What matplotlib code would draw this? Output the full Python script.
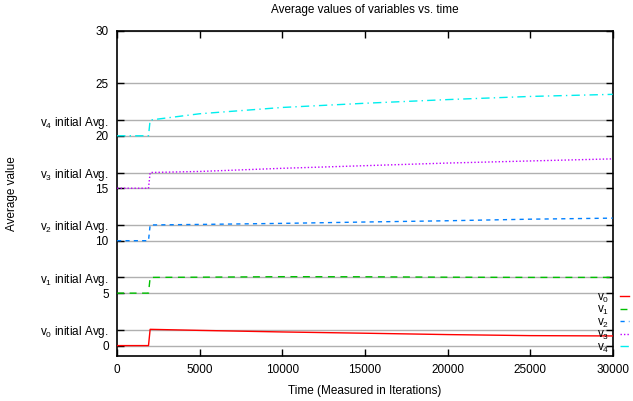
import matplotlib
matplotlib.use("Agg")
import matplotlib.pyplot as plt

plt.rcParams['font.family'] = ['Liberation Sans', 'DejaVu Sans']
plt.rcParams['mathtext.fontset'] = 'custom'
plt.rcParams['mathtext.rm'] = 'Liberation Sans'
plt.rcParams['mathtext.it'] = 'Liberation Sans'

time = [0, 1900, 2000, 5000, 10000, 15000, 20000, 25000, 30000]
v0 = [0, 0, 1.55, 1.45, 1.30, 1.18, 1.05, 0.95, 0.92]
v1 = [5, 5, 6.50, 6.52, 6.57, 6.56, 6.52, 6.50, 6.50]
v2 = [10, 10, 11.50, 11.55, 11.65, 11.78, 11.90, 12.05, 12.15]
v3 = [15, 15, 16.50, 16.60, 16.90, 17.15, 17.40, 17.60, 17.80]
v4 = [20, 20, 21.50, 22.10, 22.70, 23.10, 23.45, 23.75, 23.95]

series_labels = ['v$_0$', 'v$_1$', 'v$_2$', 'v$_3$', 'v$_4$']
colors = ['#ff0000', '#00c000', '#0080ff', '#c000ff', '#00eeee']
styles = ['-', (0, (5, 4)), (0, (3, 3)), (0, (1, 1.5)), (0, (6, 3, 1, 3))]

ytick_vals = [0, 1.5, 5, 6.5, 10, 11.5, 15, 16.5, 20, 21.5, 25, 30]
ytick_labels = ['0', 'v$_0$ initial Avg.', '5', 'v$_1$ initial Avg.', '10',
                'v$_2$ initial Avg.', '15', 'v$_3$ initial Avg.', '20',
                'v$_4$ initial Avg.', '25', '30']
xtick_vals = [0, 5000, 10000, 15000, 20000, 25000, 30000]

fig = plt.figure(figsize=(6.33, 4.01), dpi=100)
ax = fig.add_axes([0.185, 0.112, 0.783, 0.811])

for yv in ytick_vals:
    ax.axhline(yv, color='#b0b0b0', lw=1.0, zorder=1)

for data, lab, c, ls in zip([v0, v1, v2, v3, v4], series_labels, colors, styles):
    ax.plot(time, data, color=c, linestyle=ls, lw=1.0, label=lab, zorder=3)

ax.set_xlim(0, 30000)
ax.set_ylim(-1, 30)
ax.set_yticks(ytick_vals)
ax.set_yticklabels(ytick_labels, fontsize=8.5)
ax.set_xticks(xtick_vals)
ax.set_xticklabels([str(v) for v in xtick_vals], fontsize=8.5)
ax.tick_params(direction='in', length=5, width=1, top=True, right=True, pad=6)
for s in ax.spines.values():
    s.set_linewidth(1.2)

ax.set_title('Average values of variables vs. time', fontsize=8.5, pad=13)
ax.set_xlabel('Time (Measured in Iterations)', fontsize=8.5, labelpad=6)
ax.set_ylabel('Average value', fontsize=8.5, labelpad=16)

leg = ax.legend(loc='upper right', bbox_to_anchor=(1.0, 1 - 288 / 401), bbox_transform=fig.transFigure,
                frameon=False, fontsize=8.5, markerfirst=False, handlelength=0.8,
                handletextpad=0.9, labelspacing=-0.05, borderaxespad=0.0, borderpad=0.3)

fig.savefig('out.png', dpi=100)
